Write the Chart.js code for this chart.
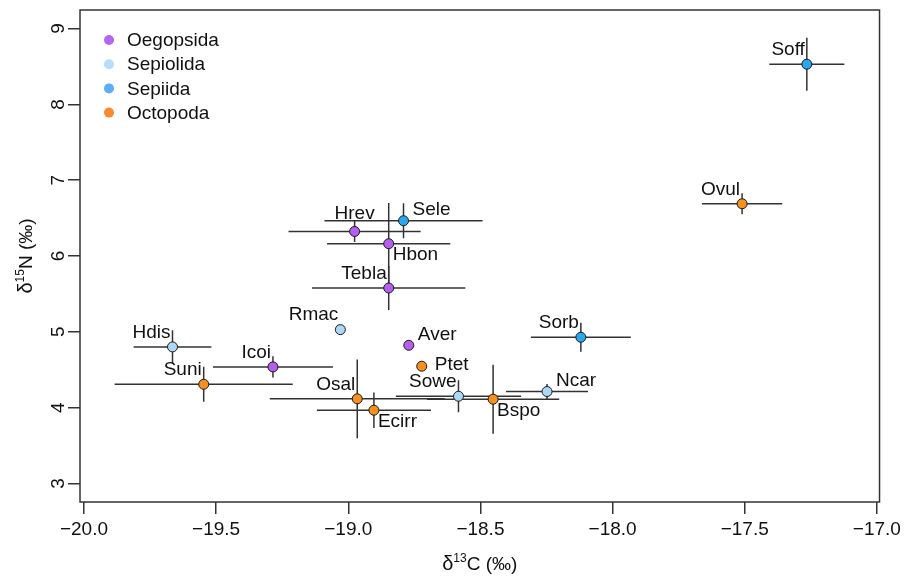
<!DOCTYPE html>
<html>
<head>
<meta charset="utf-8">
<script src="https://cdn.jsdelivr.net/npm/chart.js@4"></script>
<style>
  html, body { margin: 0; padding: 0; background: #fff; }
  #wrap { width: 905px; height: 578px; }
</style>
</head>
<body>
<div id="wrap"><canvas id="chart-isotopes"></canvas></div>
<script>
const species = ["Soff", "Ovul", "Sele", "Hrev", "Hbon", "Tebla", "Rmac", "Hdis", "Aver",
  "Icoi", "Ptet", "Suni", "Osal", "Ecirr", "Sowe", "Bspo", "Ncar", "Sorb"];
const speciesGroup = ["Sepiida", "Octopoda", "Sepiida", "Oegopsida", "Oegopsida", "Oegopsida",
  "Sepiolida", "Sepiolida", "Oegopsida", "Oegopsida", "Octopoda", "Octopoda", "Octopoda",
  "Octopoda", "Sepiolida", "Octopoda", "Sepiolida", "Sepiida"];
const d13C = [-17.265, -17.51, -18.791, -18.976, -18.847, -18.847, -19.03, -19.665, -18.771,
  -19.285, -18.722, -19.547, -18.966, -18.903, -18.583, -18.452, -18.248, -18.12];
const d15N = [8.53, 6.689, 6.465, 6.324, 6.162, 5.578, 5.029, 4.801, 4.822,
  4.537, 4.546, 4.308, 4.116, 3.966, 4.15, 4.111, 4.212, 4.928];
const sdC = [0.142, 0.152, 0.299, 0.25, 0.233, 0.29, 0, 0.147, 0,
  0.227, 0, 0.337, 0.331, 0.216, 0.237, 0.25, 0.155, 0.189];
const sdN = [0.35, 0.138, 0.23, 0.14, 0.536, 0.29, 0, 0.22, 0,
  0.14, 0, 0.23, 0.52, 0.235, 0.21, 0.455, 0.1, 0.19];
// where the name sits next to its point: lt = left/above, rt = right/above, rb = right/below
const labelSide = ["lt", "lt", "rt", "t", "rb", "lt", "lt", "lt", "rt",
  "lt", "r", "lt", "lt", "rb", "lt", "rb", "rt", "lt"];

const groupNames = ["Oegopsida", "Sepiolida", "Sepiida", "Octopoda"];
const groupColors = ["#b45ff2", "#acd8f6", "#2aa8ef", "#f7901e"];
const legendColors = ["#b565f5", "#b8dcfb", "#5aaefa", "#ff8a30"];

const xTicks = [-20, -19.5, -19, -18.5, -18, -17.5, -17];
const yTicks = [3, 4, 5, 6, 7, 8, 9];

const FONT = "'Liberation Sans', Arial, Helvetica, sans-serif";

function colorOf(g) {
  return groupColors[groupNames.indexOf(g)];
}

// error bars, drawn under the points
const errorBars = {
  id: "errorBars",
  beforeDatasetsDraw(chart) {
    const { ctx, scales: { x, y } } = chart;
    ctx.save();
    ctx.strokeStyle = "#333";
    ctx.lineWidth = 1.5;
    species.forEach((s, i) => {
      const px = x.getPixelForValue(d13C[i]);
      const py = y.getPixelForValue(d15N[i]);
      ctx.beginPath();
      if (sdC[i] > 0) {
        ctx.moveTo(x.getPixelForValue(d13C[i] - sdC[i]), py);
        ctx.lineTo(x.getPixelForValue(d13C[i] + sdC[i]), py);
      }
      if (sdN[i] > 0) {
        ctx.moveTo(px, y.getPixelForValue(d15N[i] - sdN[i]));
        ctx.lineTo(px, y.getPixelForValue(d15N[i] + sdN[i]));
      }
      ctx.stroke();
    });
    ctx.restore();
  },
};

function drawParts(ctx, parts, startX, baseY) {
  let cx = startX;
  parts.forEach(([txt, size, rise]) => {
    ctx.font = size + "px " + FONT;
    ctx.fillText(txt, cx, baseY - rise);
    cx += ctx.measureText(txt).width;
  });
}

function partsWidth(ctx, parts) {
  let w = 0;
  parts.forEach(([txt, size]) => {
    ctx.font = size + "px " + FONT;
    w += ctx.measureText(txt).width;
  });
  return w;
}

const decorations = {
  id: "decorations",
  afterDraw(chart) {
    const { ctx, chartArea: a, scales: { x, y } } = chart;
    ctx.save();

    // box
    ctx.strokeStyle = "#333";
    ctx.lineWidth = 1.5;
    ctx.strokeRect(a.left, a.top, a.right - a.left, a.bottom - a.top);

    // species names
    ctx.fillStyle = "#111";
    ctx.font = "19px " + FONT;
    ctx.textBaseline = "middle";
    species.forEach((s, i) => {
      const px = x.getPixelForValue(d13C[i]);
      const py = y.getPixelForValue(d15N[i]);
      const side = labelSide[i];
      if (side === "lt") {
        ctx.textAlign = "right";
        ctx.fillText(s, px - 2, py - 14.5);
      } else if (side === "rt") {
        ctx.textAlign = "left";
        ctx.fillText(s, px + 9, py - 10.5);
      } else if (side === "rb") {
        ctx.textAlign = "left";
        ctx.fillText(s, px + 4, py + 11.5);
      } else if (side === "r") {
        ctx.textAlign = "left";
        ctx.fillText(s, px + 13, py - 1);
      } else {
        ctx.textAlign = "center";
        ctx.fillText(s, px, py - 18);
      }
    });

    // legend
    groupNames.forEach((g, i) => {
      const ly = 40 + i * 24.2;
      ctx.beginPath();
      ctx.fillStyle = legendColors[i];
      ctx.arc(109, ly, 5, 0, Math.PI * 2);
      ctx.fill();
      ctx.fillStyle = "#111";
      ctx.textAlign = "left";
      ctx.font = "19px " + FONT;
      ctx.fillText(g, 127, ly + 1);
    });

    // axis titles with superscripts
    ctx.textAlign = "left";
    ctx.textBaseline = "alphabetic";
    ctx.fillStyle = "#111";
    const xt = [["δ", 20, 0], ["13", 12, 8], ["C (‰)", 19, 0]];
    const xw = partsWidth(ctx, xt);
    drawParts(ctx, xt, (a.left + a.right) / 2 - xw / 2, 570);

    const yt = [["δ", 20, 0], ["15", 12, 8], ["N (‰)", 19, 0]];
    const yw = partsWidth(ctx, yt);
    ctx.translate(32, 256);
    ctx.rotate(-Math.PI / 2);
    drawParts(ctx, yt, -yw / 2, 0);

    ctx.restore();
  },
};

new Chart(document.getElementById("chart-isotopes"), {
  type: "scatter",
  data: {
    datasets: [
      {
        data: species.map((s, i) => ({ x: d13C[i], y: d15N[i] })),
        pointBackgroundColor: speciesGroup.map(colorOf),
        pointBorderColor: "#1a1a1a",
        pointBorderWidth: 1,
        pointRadius: 5,
        pointHoverRadius: 5,
      },
    ],
  },
  options: {
    responsive: true,
    maintainAspectRatio: false,
    animation: false,
    layout: { padding: { top: 10, right: 24, left: 0, bottom: 0 } },
    plugins: {
      legend: { display: false },
      tooltip: { enabled: false },
    },
    scales: {
      x: {
        type: "linear",
        min: -20.015,
        max: -16.99,
        afterBuildTicks: (scale) => {
          scale.ticks = xTicks.map((v) => ({ value: v }));
        },
        afterFit: (scale) => {
          scale.height = 76;
        },
        border: { display: false },
        grid: {
          drawOnChartArea: false,
          drawTicks: true,
          tickLength: 12,
          color: "#333",
          lineWidth: 1.5,
        },
        ticks: {
          padding: 4,
          color: "#111",
          font: { family: FONT, size: 19 },
          maxRotation: 0,
          autoSkip: false,
          callback: (v) => v.toFixed(1).replace("-", "\u2212"),
        },
      },
      y: {
        type: "linear",
        min: 2.755,
        max: 9.245,
        afterBuildTicks: (scale) => {
          scale.ticks = yTicks.map((v) => ({ value: v }));
        },
        afterFit: (scale) => {
          scale.width = 80;
          scale.paddingTop = 0;
          scale.paddingBottom = 0;
        },
        border: { display: false },
        grid: {
          drawOnChartArea: false,
          drawTicks: true,
          tickLength: 12,
          color: "#333",
          lineWidth: 1.5,
        },
        ticks: {
          padding: 4,
          color: "#111",
          font: { family: FONT, size: 19 },
          minRotation: 90,
          maxRotation: 90,
          crossAlign: "center",
          autoSkip: false,
          callback: (v) => String(v),
        },
      },
    },
  },
  plugins: [errorBars, decorations],
});
</script>
</body>
</html>
